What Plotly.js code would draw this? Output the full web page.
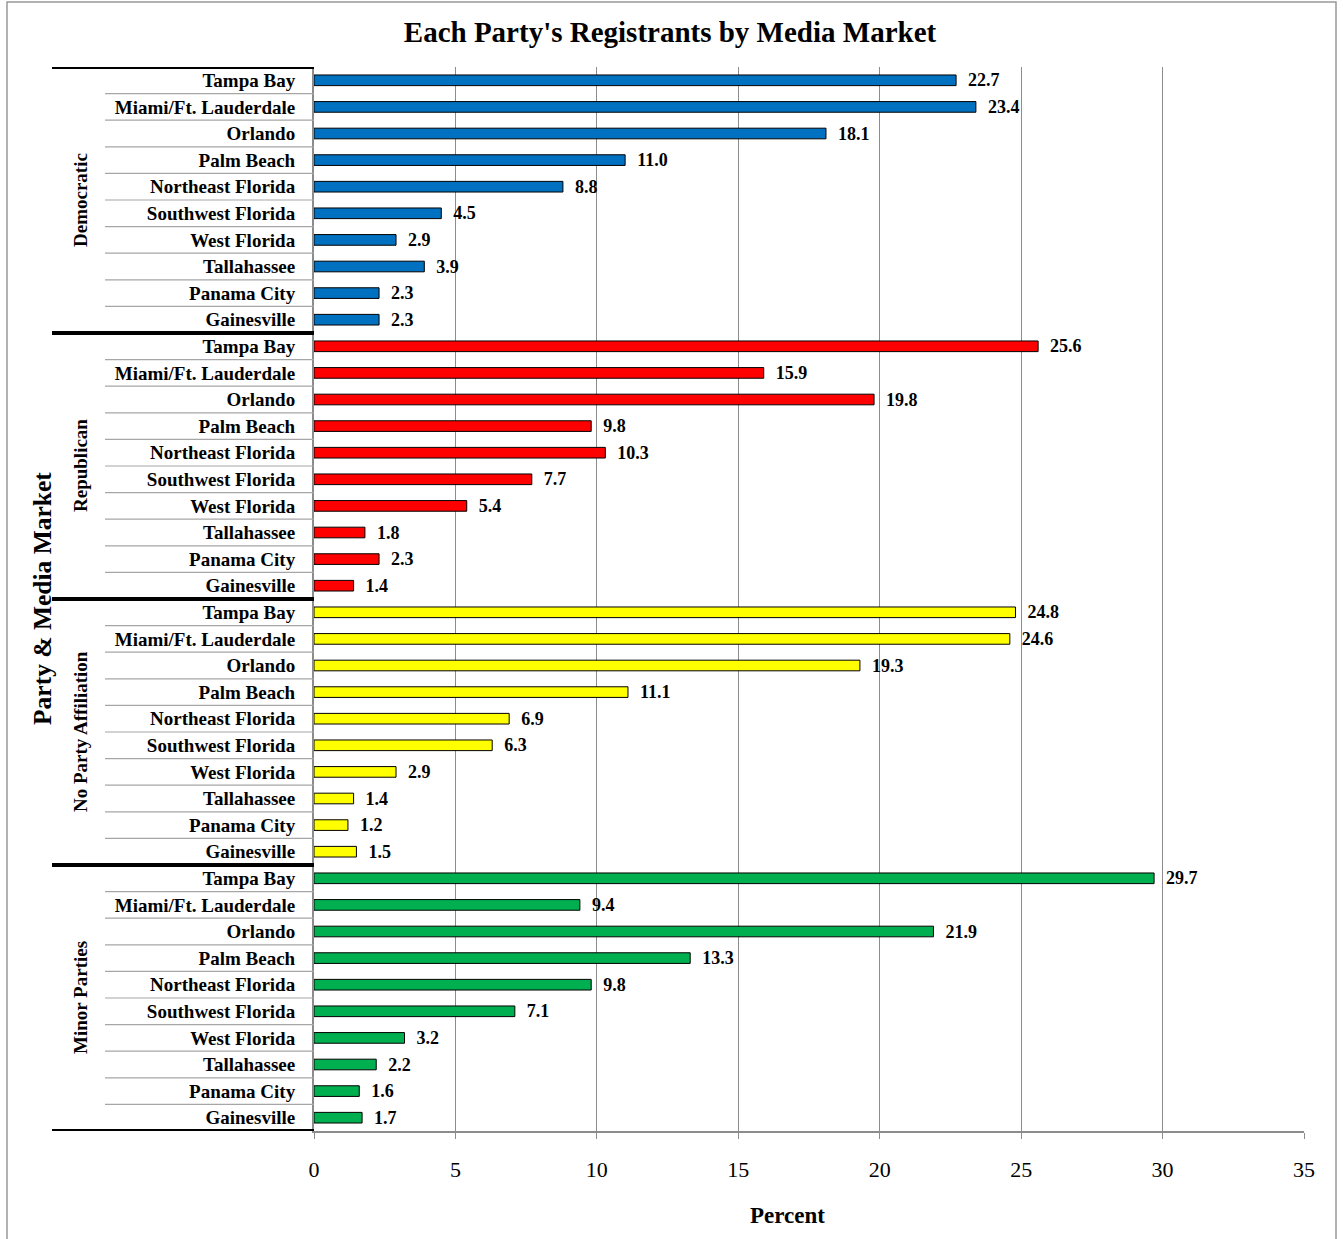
<!DOCTYPE html>
<html>
<head>
<meta charset="utf-8">
<script src="https://cdn.plot.ly/plotly-3.0.1.min.js"></script>
<style>html,body{margin:0;padding:0;background:#fff;}#chart{width:1343px;height:1239px;}</style>
</head>
<body>
<div id="chart"></div>
<script>
const markets = ["Tampa Bay","Miami/Ft. Lauderdale","Orlando","Palm Beach","Northeast Florida","Southwest Florida","West Florida","Tallahassee","Panama City","Gainesville"];
const parties = ["Democratic","Republican","No Party Affiliation","Minor Parties"];
const democratic = [22.7,23.4,18.1,11.0,8.8,4.5,2.9,3.9,2.3,2.3];
const republican = [25.6,15.9,19.8,9.8,10.3,7.7,5.4,1.8,2.3,1.4];
const noParty = [24.8,24.6,19.3,11.1,6.9,6.3,2.9,1.4,1.2,1.5];
const minorParties = [29.7,9.4,21.9,13.3,9.8,7.1,3.2,2.2,1.6,1.7];
const xTicks = [0,5,10,15,20,25,30,35];

const seriesValues = [democratic, republican, noParty, minorParties];
const colors = ["#0070C0","#FF0000","#FFFF00","#00B050"];
const SERIF = "Liberation Serif, Times New Roman, serif";

const n = markets.length;
const traces = seriesValues.map((vals, g) => ({
  type: "bar",
  orientation: "h",
  name: parties[g],
  x: vals,
  y: vals.map((v, i) => g * n + i),
  width: 0.4,
  marker: {color: colors[g], line: {color: "#000", width: 1}},
  text: vals.map(v => v.toFixed(1)),
  texttemplate: "\u2002%{text}",
  textposition: "outside",
  constraintext: "none",
  cliponaxis: false,
  textfont: {family: SERIF, size: 18, color: "#000", weight: "bold"},
  hoverinfo: "x+y"
}));

const tickvals = [], ticktext = [];
parties.forEach((p, g) => markets.forEach((m, i) => { tickvals.push(g * n + i); ticktext.push("<b>" + m + "</b>"); }));

// layout geometry (pixels)
const L = 314, R = 39, T = 67, B = 108, W = 1343, H = 1239;
const pw = W - L - R, ph = H - T - B;
const px = p => (p - L) / pw;
const py = p => (T + ph - p) / ph;

const shapes = [];
for (let k = 1; k < parties.length * n; k++) {
  if (k % n === 0) continue;
  shapes.push({type: "line", xref: "paper", yref: "y", x0: px(105), x1: 0, y0: k - 0.5, y1: k - 0.5,
    line: {color: "#A6A6A6", width: 1.2}});
}
for (let g = 0; g <= parties.length; g++) {
  shapes.push({type: "line", xref: "paper", yref: "y", x0: px(52), x1: 0, y0: g * n - 0.5, y1: g * n - 0.5,
    line: {color: "#000", width: 4}});
}
shapes.push({type: "rect", xref: "paper", yref: "paper", x0: px(7), x1: px(1336), y0: py(1250), y1: py(2),
  line: {color: "#999", width: 1.5}, fillcolor: "rgba(0,0,0,0)", layer: "below"});

const annotations = parties.map((p, g) => ({
  xref: "paper", yref: "y", x: px(80), y: g * n + (n - 1) / 2,
  text: "<b>" + p + "</b>", textangle: -90, showarrow: false,
  font: {family: SERIF, size: 19, color: "#000"}, xanchor: "center", yanchor: "middle"
}));
annotations.push({
  xref: "paper", yref: "paper", x: px(42), y: 0.5,
  text: "<b>Party &amp; Media Market</b>", textangle: -90, showarrow: false,
  font: {family: SERIF, size: 25.5, color: "#000"}, xanchor: "center", yanchor: "middle"
});
annotations.push({
  xref: "paper", yref: "paper", x: px(787), y: py(1215),
  text: "<b>Percent</b>", showarrow: false,
  font: {family: SERIF, size: 23, color: "#000"}, xanchor: "center", yanchor: "middle"
});

const layout = {
  width: W, height: H,
  margin: {l: L, r: R, t: T, b: B},
  paper_bgcolor: "#fff", plot_bgcolor: "#fff",
  showlegend: false,
  barmode: "overlay",
  title: {text: "<b>Each Party's Registrants by Media Market</b>", font: {family: SERIF, size: 29, color: "#000"},
    x: 670 / W, xanchor: "center", y: 1 - 32 / H, yanchor: "middle"},
  xaxis: {
    range: [0, 35], tickvals: xTicks, ticktext: xTicks.map(String),
    showgrid: true, gridcolor: "#8C8C8C", gridwidth: 1,
    zeroline: false, showline: true, linecolor: "#8C8C8C", linewidth: 2,
    ticks: "outside", ticklen: 6, tickcolor: "#8C8C8C", ticklabelstandoff: 12,
    tickfont: {family: SERIF, size: 22, color: "#000"},
    fixedrange: true
  },
  yaxis: {
    range: [parties.length * n - 0.5, -0.5],
    tickvals: tickvals, ticktext: ticktext, ticks: "", ticklabelstandoff: 13,
    tickfont: {family: SERIF, size: 19, color: "#000"},
    showgrid: false, zeroline: false, showline: true, linecolor: "#8C8C8C", linewidth: 2,
    fixedrange: true
  },
  shapes: shapes,
  annotations: annotations
};

Plotly.newPlot("chart", traces, layout, {displayModeBar: false, staticPlot: true});
</script>
</body>
</html>
